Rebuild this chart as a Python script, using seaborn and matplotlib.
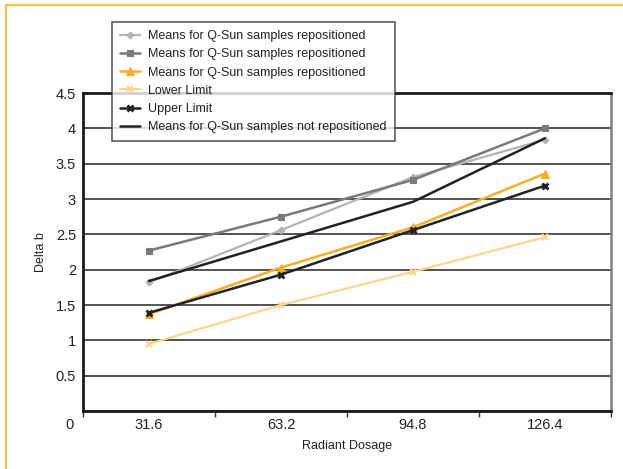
import matplotlib
matplotlib.use("Agg")
import matplotlib.pyplot as plt
import matplotlib.transforms as mtransforms
import seaborn as sns
import pandas as pd

dosage = ["31.6", "63.2", "94.8", "126.4"]
rep_a = [1.82, 2.56, 3.31, 3.84]
rep_b = [2.27, 2.75, 3.27, 4.00]
rep_c = [1.37, 2.03, 2.60, 3.36]
lower_limit = [0.95, 1.50, 1.97, 2.46]
upper_limit = [1.39, 1.93, 2.56, 3.19]
not_rep = [1.84, 2.40, 2.96, 3.86]

labels = ["Means for Q-Sun samples repositioned",
          "Means for Q-Sun samples repositioned",
          "Means for Q-Sun samples repositioned",
          "Lower Limit",
          "Upper Limit",
          "Means for Q-Sun samples not repositioned"]
yticks = [0, 0.5, 1, 1.5, 2, 2.5, 3, 3.5, 4, 4.5]

sns.set_theme(style="white")
plt.rcParams["font.family"] = ["Liberation Sans", "DejaVu Sans"]

fig = plt.figure(figsize=(6.23, 4.69), dpi=100)
ax = fig.add_axes([83 / 623, 1 - 411 / 469, 528 / 623, 318 / 469])

styles = [
    dict(color="#b4b4b4", marker="D", markersize=3.5, lw=1.6),
    dict(color="#7a7a7a", marker="s", markersize=5, lw=1.8),
    dict(color="#f7b025", marker="^", markersize=5.5, lw=1.8),
    dict(color="#fcd68e", marker="x", markersize=5, lw=1.6, mew=1.6),
    dict(color="#222222", marker="x", markersize=5, lw=1.8, mew=2),
    dict(color="#222222", marker=None, lw=1.8),
]
series = [rep_a, rep_b, rep_c, lower_limit, upper_limit, not_rep]
for vals, lab, st in zip(series, labels, styles):
    df = pd.DataFrame({"x": dosage, "y": vals})
    sns.lineplot(data=df, x="x", y="y", ax=ax, label=lab,
                 color=st["color"], marker=st["marker"],
                 markersize=st.get("markersize", 0), linewidth=st["lw"],
                 markeredgewidth=st.get("mew", 0.8),
                 markeredgecolor=st["color"], sort=False, zorder=3)

ax.set_xlim(-0.5, 3.5)
ax.set_ylim(0, 4.5)
ax.set_yticks(yticks)
ax.set_yticklabels([f"{v:g}" for v in yticks], fontsize=10.5, color="#222222")
ax.yaxis.grid(True, color="#444444", linewidth=1.3, zorder=0)
ax.set_axisbelow(True)
ax.tick_params(axis="y", length=0, pad=5)
ax.set_xticks(range(len(dosage)))
ax.set_xticklabels(dosage, fontsize=10.5, color="#222222")
ax.set_xticks([-0.5, 0.5, 1.5, 2.5, 3.5], minor=True)
ax.tick_params(axis="x", which="major", length=0, pad=5)
ax.tick_params(axis="x", which="minor", length=4, width=1, color="#333333", direction="out", bottom=True)

# shift the "0" label down to line up with x labels
off = mtransforms.ScaledTranslation(-2 / 100, -12 / 100, fig.dpi_scale_trans)
for t in ax.get_yticklabels():
    if t.get_text() == "0":
        t.set_transform(t.get_transform() + off)

for side in ["left", "bottom", "top"]:
    ax.spines[side].set_color("#1a1a1a")
    ax.spines[side].set_linewidth(2)
ax.spines["right"].set_color("#808080")
ax.spines["right"].set_linewidth(1.8)

ax.set_xlabel("Radiant Dosage", fontsize=9, color="#222222", labelpad=6)
ax.set_ylabel("Delta b", fontsize=9, color="#222222", labelpad=6)

leg = ax.legend(loc="upper left", bbox_to_anchor=(112 / 623, 1 - 22 / 469),
                bbox_transform=fig.transFigure, frameon=True, fancybox=False,
                fontsize=9, handlelength=1.6, handletextpad=0.65,
                labelspacing=0.5, borderpad=0.65, borderaxespad=0)
leg.get_frame().set_edgecolor("#333333")
leg.get_frame().set_linewidth(1.2)
leg.set_zorder(5)
for t in leg.get_texts():
    t.set_color("#222222")

# orange frame lines (top and left)
fig.add_artist(plt.Line2D([6 / 623, 1], [1 - 5 / 469, 1 - 5 / 469],
                          transform=fig.transFigure, color="#f9c04c", lw=1.6))
fig.add_artist(plt.Line2D([6 / 623, 6 / 623], [0, 1 - 5 / 469],
                          transform=fig.transFigure, color="#f9c04c", lw=1.6))

fig.savefig("out.png", dpi=100)
